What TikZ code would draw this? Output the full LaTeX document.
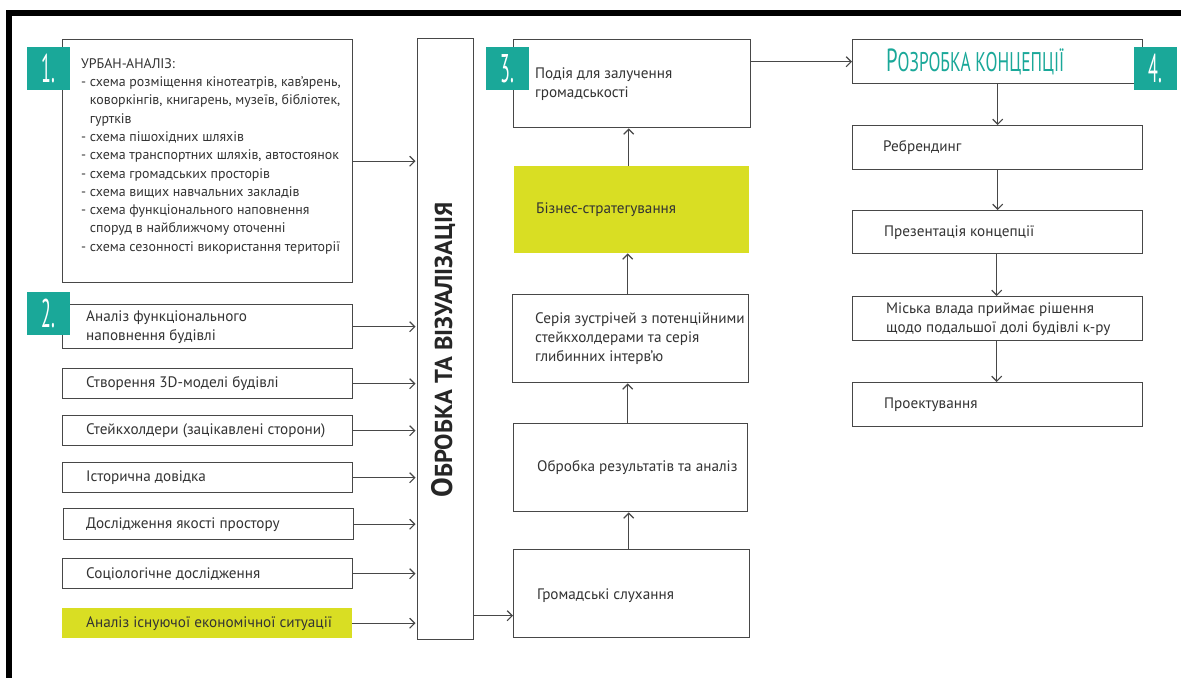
\documentclass[tikz,border=0pt]{standalone}
\usepackage{graphicx}
\usepackage{fontspec}
\setmainfont{PT Sans}
\usetikzlibrary{arrows.meta,calc}
\definecolor{teal1}{HTML}{1AA899}
\definecolor{lime1}{HTML}{D9DE23}
\definecolor{line1}{HTML}{474747}
\definecolor{txt1}{HTML}{333333}
\begin{document}
\begin{tikzpicture}[x=1pt,y=-1pt,
 box/.style={draw=line1, line width=1.4pt, rectangle, inner sep=0pt, anchor=north west},
 fillbox/.style={fill=lime1, rectangle, inner sep=0pt, anchor=north west},
 txt/.style={anchor=west, align=left, inner sep=0pt, text=txt1, font=\fontsize{15.2}{19}\selectfont},
 badge/.style={fill=teal1, minimum size=43pt, inner sep=0pt, anchor=north west, text=white, font=\fontsize{40}{40}\selectfont},
 arr/.style={draw=line1, line width=1.2pt, -{Straight Barb[length=5pt,width=10pt]}},
]
\useasboundingbox[fill=white] (0,0) rectangle (1181,678);
\fill[black] (6,10) rectangle (1181,16);
\fill[black] (6,10) rectangle (12,678);

% left column
\node[box, minimum width=290pt, minimum height=243pt] (b1) at (62,39) {};
\node[txt, font=\fontsize{13.9}{18.3}\selectfont] (t1) at ([xshift=19pt,yshift=5pt]b1.west) {УРБАН-АНАЛІЗ:\\
- схема розміщення кінотеатрів, кав’ярень,\\
\phantom{- }коворкінгів, книгарень, музеїв, бібліотек,\\
\phantom{- }гуртків\\
- схема пішохідних шляхів\\
- схема транспортних шляхів, автостоянок\\
- схема громадських просторів\\
- схема вищих навчальних закладів\\
- схема функціонального наповнення\\
\phantom{- }споруд в найближчому оточенні\\
- схема сезонності використання території};
\node[box, minimum width=290pt, minimum height=44pt] (b2) at (62,304) {};
\node[txt] (t2) at ([xshift=24pt]b2.west) {Аналіз функціонального\\наповнення будівлі};
\node[box, minimum width=290pt, minimum height=30pt] (b3) at (62,368) {};
\node[txt] (t3) at ([xshift=24pt]b3.west) {Створення 3D-моделі будівлі};
\node[box, minimum width=290pt, minimum height=30pt] (b4) at (62,415) {};
\node[txt] (t4) at ([xshift=24pt]b4.west) {Стейкхолдери (зацікавлені сторони)};
\node[box, minimum width=290pt, minimum height=30pt] (b5) at (62,462) {};
\node[txt] (t5) at ([xshift=24pt]b5.west) {Історична довідка};
\node[box, minimum width=290pt, minimum height=31pt] (b6) at (63,508) {};
\node[txt] (t6) at ([xshift=23pt]b6.west) {Дослідження якості простору};
\node[box, minimum width=290pt, minimum height=30pt] (b7) at (62,558) {};
\node[txt] (t7) at ([xshift=24pt]b7.west) {Соціологічне дослідження};
\node[fillbox, minimum width=290pt, minimum height=30pt] (b8) at (62,608) {};
\node[txt] (t8) at ([xshift=24pt]b8.west) {Аналіз існуючої економічної ситуації};

% central processing box
\node[box, minimum width=56pt, minimum height=601pt] (mid) at (417,38) {};
\node[rotate=90, inner sep=0pt, text=black!85] (midt) at (443,350) {\resizebox{295pt}{\height}{\bfseries\fontsize{29.5}{30}\selectfont О\fontsize{24.5}{26}\selectfont БРОБКА ТА ВІЗУАЛІЗАЦІЯ}};

% middle column
\node[box, minimum width=237pt, minimum height=88pt] (p) at (513,39) {};
\node[txt] (pt) at ([xshift=22pt]p.west) {Подія для залучення\\громадськості};
\node[fillbox, minimum width=235pt, minimum height=87pt] (biz) at (514,166) {};
\node[txt] (bizt) at ([xshift=22pt]biz.west) {Бізнес-стратегування};
\node[box, minimum width=236pt, minimum height=88pt] (ser) at (512,294) {};
\node[txt] (sert) at ([xshift=23pt]ser.west) {Серія зустрічей з потенційними\\стейкхолдерами та серія\\глибинних інтерв’ю};
\node[box, minimum width=234pt, minimum height=88pt] (obr) at (513,423) {};
\node[txt] (obrt) at ([xshift=24pt]obr.west) {Обробка результатів та аналіз};
\node[box, minimum width=236pt, minimum height=88pt] (gs) at (513,549) {};
\node[txt] (gst) at ([xshift=24pt,yshift=-2pt]gs.west) {Громадські слухання};

% right column
\node[box, minimum width=290pt, minimum height=44pt] (rz) at (852,39) {};
\node[anchor=west, inner sep=0pt, text=teal1] (rzt) at ([xshift=34pt]rz.west) {\resizebox{178pt}{\height}{\fontsize{32}{32}\selectfont Р\fontsize{27}{27}\selectfont ОЗРОБКА КОНЦЕПЦІЇ}};
\node[box, minimum width=290pt, minimum height=44pt] (rb) at (852,125) {};
\node[txt] (rbt) at ([xshift=31pt]rb.west) {Ребрендинг};
\node[box, minimum width=290pt, minimum height=43pt] (pr) at (852,210) {};
\node[txt] (prt) at ([xshift=32pt]pr.west) {Презентація концепції};
\node[box, minimum width=290pt, minimum height=44pt] (mv) at (852,296) {};
\node[txt] (mvt) at ([xshift=34pt]mv.west) {Міська влада приймає рішення\\щодо подальшої долі будівлі к-ру};
\node[box, minimum width=290pt, minimum height=44pt] (pk) at (852,382) {};
\node[txt] (pkt) at ([xshift=32pt]pk.west) {Проектування};

% badges
\node[badge] (n1) at (27,47) {\scalebox{0.45}[1]{1.}};
\node[badge] (n2) at (27,292) {\scalebox{0.45}[1]{2.}};
\node[badge] (n3) at (486,47) {\scalebox{0.45}[1]{3.}};
\node[badge] (n4) at (1134,47) {\scalebox{0.45}[1]{4.}};

% connectors into processing box
\draw[arr, shorten >=1.5pt] (b1.east) -- (b1.east -| mid.west);
\foreach \b in {b2,b3,b4,b5,b6,b7,b8}{
  \draw[arr, shorten >=1.5pt] (\b.east) -- (\b.east -| mid.west);
}
\coordinate (gsin) at ([yshift=-22pt]gs.west);
\draw[arr] (gsin -| mid.east) -- (gsin);
\draw[arr] ([xshift=-3pt]gs.north) -- ([xshift=-3pt]gs.north |- obr.south);
\draw[arr] ([xshift=-3pt]obr.north) -- ([xshift=-3pt]obr.north |- ser.south);
\draw[arr] ([xshift=-3pt]ser.north) -- ([xshift=-3pt]ser.north |- biz.south);
\draw[arr] ([xshift=-3pt]biz.north) -- ([xshift=-3pt]biz.north |- p.south);
\draw[arr] (rz.west -| p.east) -- (rz.west);
\draw[arr] (rz.south) -- (rb.north);
\draw[arr] (rb.south) -- (pr.north);
\draw[arr] ([xshift=-1pt]pr.south) -- ([xshift=-1pt]mv.north);
\draw[arr] ([xshift=-1pt]mv.south) -- ([xshift=-1pt]pk.north);
\end{tikzpicture}
\end{document}
